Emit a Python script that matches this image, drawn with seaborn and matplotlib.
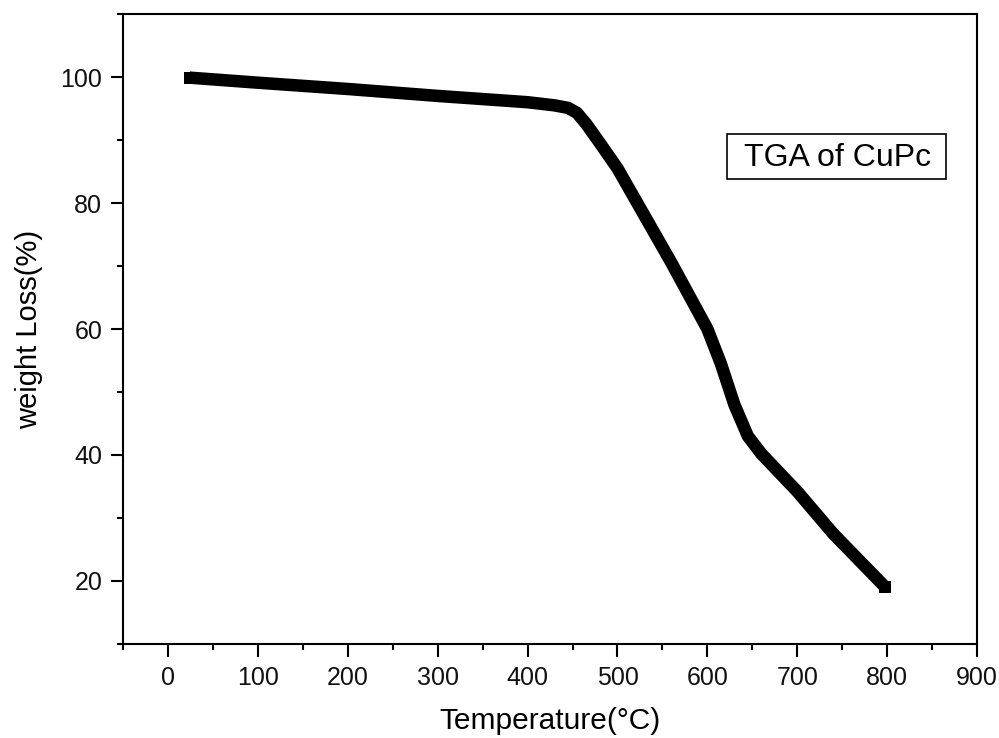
import matplotlib
matplotlib.use("Agg")
import matplotlib.pyplot as plt
import seaborn as sns
from matplotlib.ticker import MultipleLocator
from matplotlib.patches import Rectangle

temperature = [24, 100, 200, 300, 400, 430, 445, 455, 465, 480, 500, 520, 560, 600, 615, 630, 645, 660, 700, 740, 798]
weight = [99.9, 99.1, 98.1, 97.0, 96.0, 95.5, 95.1, 94.3, 92.6, 89.6, 85.5, 80.5, 70.5, 60.0, 54.5, 48.0, 43.0, 40.2, 34.2, 27.5, 19.0]

x_ticks = [0, 100, 200, 300, 400, 500, 600, 700, 800, 900]
y_ticks = [20, 40, 60, 80, 100]

sns.set_style("ticks")
plt.rcParams["font.family"] = ["Liberation Sans", "DejaVu Sans"]

fig = plt.figure(figsize=(9.99, 7.38), dpi=100)
ax = fig.add_axes([0.1231, 0.1274, 0.855, 0.8536])

sns.lineplot(x=temperature, y=weight, color="black", linewidth=9, ax=ax,
             solid_capstyle="butt", solid_joinstyle="round", sort=True)
ax.plot([temperature[0], temperature[-1]], [weight[0], weight[-1]], linestyle="none",
        marker="s", markersize=8.6, color="black", markeredgewidth=0)

ax.set_xlim(-50, 900)
ax.set_ylim(10, 110)
ax.set_xticks(x_ticks)
ax.set_yticks(y_ticks)
ax.xaxis.set_minor_locator(MultipleLocator(50))
ax.yaxis.set_minor_locator(MultipleLocator(10))
ax.tick_params(axis="both", which="major", direction="out", length=9, width=1.5,
               labelsize=18, color="black", labelcolor="#111111")
ax.tick_params(axis="x", which="major", pad=7)
ax.tick_params(axis="y", which="major", pad=6)
ax.tick_params(axis="both", which="minor", direction="out", length=4.5, width=1.5, color="black")
for s in ax.spines.values():
    s.set_visible(True)
    s.set_linewidth(1.5)
    s.set_color("black")

ax.set_xlabel("Temperature(°C)", fontsize=21.5, color="black")
ax.set_ylabel("weight Loss(%)", fontsize=21, color="black")
ax.xaxis.set_label_coords(0.5, -0.1)
ax.yaxis.set_label_coords(-0.094, 0.5)

ax.add_patch(Rectangle((0.7073, 0.738), 0.2564, 0.0714, transform=ax.transAxes,
                       facecolor="white", edgecolor="black", linewidth=1.2, zorder=5))
ax.text(0.837, 0.772, "TGA of CuPc", transform=ax.transAxes, fontsize=23,
        ha="center", va="center", color="black", zorder=6)

fig.savefig("out.png", dpi=100)
